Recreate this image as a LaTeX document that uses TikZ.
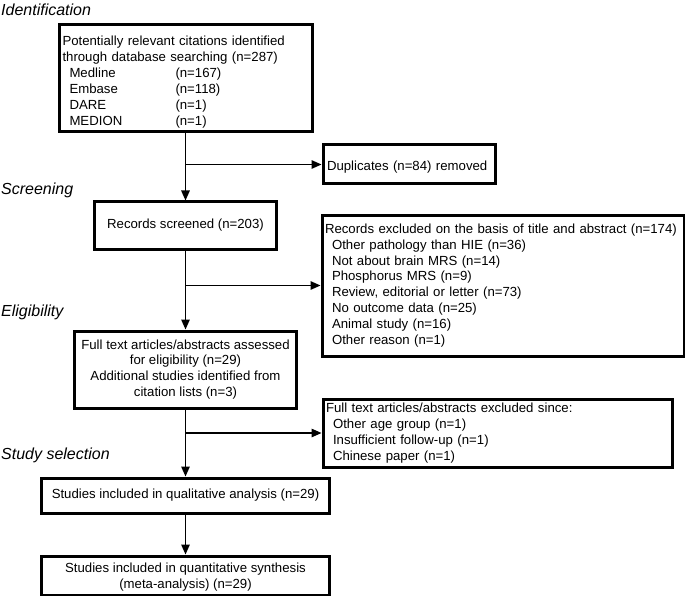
\documentclass[tikz,border=0pt]{standalone}
\usepackage{fontspec}
\setmainfont{Liberation Sans}
\usetikzlibrary{arrows.meta}
\begin{document}
\begin{tikzpicture}[x=1pt,y=-1pt,
  box/.style={draw=black, line width=3pt, inner xsep=3pt, inner ysep=2pt,
    font=\fontsize{13.2}{15.9}\selectfont, anchor=center},
  arr/.style={line width=1.4pt, -{Triangle[length=10pt,width=8.5pt]}},
  stage/.style={font=\fontsize{16}{18}\selectfont\itshape, anchor=west, inner sep=0pt}]
\useasboundingbox (0,0) rectangle (685,596);
\fill[white] (0,0) rectangle (685,596);

\node[stage] (l1) at (1,10) {Identification};
\node[stage] (l2) at (1,190) {Screening};
\node[stage] (l3) at (1,312) {Eligibility};
\node[stage] (l4) at (1,455) {Study selection};

\node[box, minimum width=253pt, minimum height=107pt, text width=246pt, align=left] (b1) at (185.5,78.5)
 {\rule{0pt}{17pt}Potentially relevant citations identified\\
  through database searching (n=287)\\
  \hspace*{7pt}\makebox[106pt][l]{Medline}(n=167)\\
  \hspace*{7pt}\makebox[106pt][l]{Embase}(n=118)\\
  \hspace*{7pt}\makebox[106pt][l]{DARE}(n=1)\\
  \hspace*{7pt}\makebox[106pt][l]{MEDION}(n=1)};

\node[box, minimum width=172pt, minimum height=39pt, text width=164pt, align=left] (dup) at (409,164.5)
 {\rule{0pt}{14pt}Duplicates (n=84) removed};

\node[box, minimum width=182pt, minimum height=47pt, align=center] (b2) at (185.5,225.5)
 {Records screened (n=203)};

\node[box, minimum width=360pt, minimum height=141pt, text width=356pt, align=left] (ex1) at (503,285.5)
 {Records excluded on the basis of title and abstract (n=174)\\
  \hspace*{7pt}Other pathology than HIE (n=36)\\
  \hspace*{7pt}Not about brain MRS (n=14)\\
  \hspace*{7pt}Phosphorus MRS (n=9)\\
  \hspace*{7pt}Review, editorial or letter (n=73)\\
  \hspace*{7pt}No outcome data (n=25)\\
  \hspace*{7pt}Animal study (n=16)\\
  \hspace*{7pt}Other reason (n=1)};

\node[box, minimum width=222pt, minimum height=77pt, align=center] (b3) at (185.5,369.5)
 {Full text articles/abstracts assessed\\
  for eligibility (n=29)\\
  Additional studies identified from\\
  citation lists (n=3)};

\node[box, minimum width=349pt, minimum height=68pt, text width=343pt, align=left] (ex2) at (497.5,433)
 {Full text articles/abstracts excluded since:\\
  \hspace*{7pt}Other age group (n=1)\\
  \hspace*{7pt}Insufficient follow-up (n=1)\\
  \hspace*{7pt}Chinese paper (n=1)};

\node[box, minimum width=288pt, minimum height=35pt, align=center] (b4) at (185.5,495.5)
 {Studies included in qualitative analysis (n=29)};

\node[box, minimum width=288pt, minimum height=39pt, align=center] (b5) at (185.5,575.5)
 {\rule{0pt}{13pt}Studies included in quantitative synthesis\\
  (meta-analysis) (n=29)};

\draw[arr] (b1.south) -- (b2.north);
\draw[arr] (b1.south |- dup.west) -- (dup.west);
\draw[arr] (b2.south) -- (b3.north);
\draw[arr] (b2.south |- ex1.west) -- (ex1.west);
\draw[arr] (b3.south) -- (b4.north);
\draw[arr] (b3.south |- ex2.west) -- (ex2.west);
\draw[arr] (b4.south) -- (b5.north);
\end{tikzpicture}
\end{document}
